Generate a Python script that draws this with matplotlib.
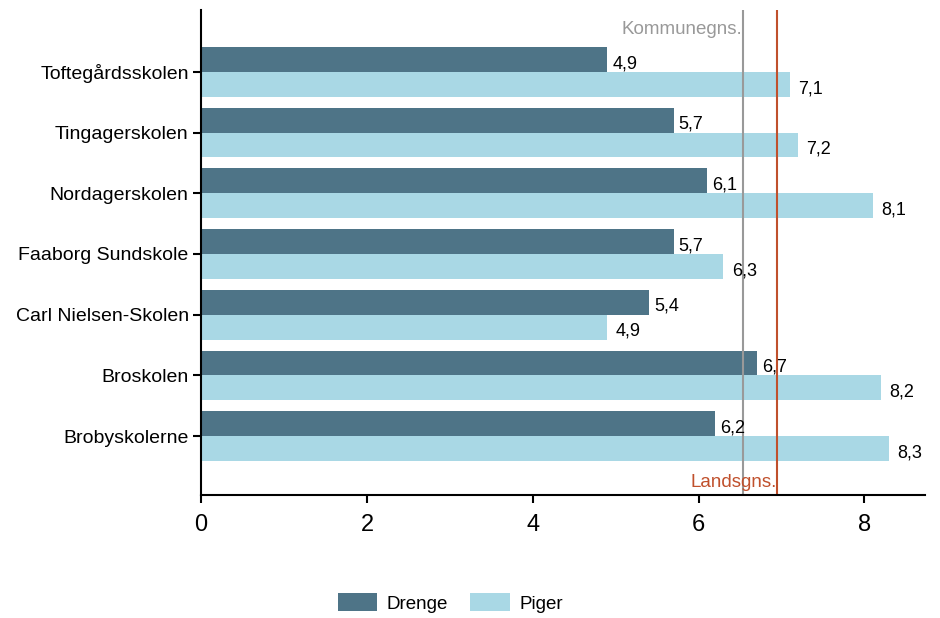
import matplotlib
matplotlib.use('Agg')
import matplotlib.pyplot as plt
import numpy as np

plt.rcParams['font.family'] = ['Liberation Sans', 'DejaVu Sans']

schools = ['Toftegårdsskolen', 'Tingagerskolen', 'Nordagerskolen', 'Faaborg Sundskole',
           'Carl Nielsen-Skolen', 'Broskolen', 'Brobyskolerne']
drenge = [4.9, 5.7, 6.1, 5.7, 5.4, 6.7, 6.2]
piger = [7.1, 7.2, 8.1, 6.3, 4.9, 8.2, 8.3]
kommune_avg = 6.53
lands_avg = 6.94

dark = '#4e7487'
light = '#a9d8e5'

fig = plt.figure(figsize=(9.4, 6.18), dpi=100)
ax = fig.add_axes([0.214, 0.199, 0.77, 0.785])

y = np.arange(len(schools))
h = 0.41
ax.barh(y - h / 2, drenge, height=h, color=dark, label='Drenge')
ax.barh(y + h / 2, piger, height=h, color=light, label='Piger')

for yi, v in zip(y, drenge):
    ax.text(v + 0.06, yi - h / 2 + 0.07, f'{v:.1f}'.replace('.', ','), va='center', ha='left', fontsize=13)
for yi, v in zip(y, piger):
    ax.text(v + 0.1, yi + h / 2 + 0.07, f'{v:.1f}'.replace('.', ','), va='center', ha='left', fontsize=13)

ax.axvline(kommune_avg, color='#999999', lw=1.5)
ax.axvline(lands_avg, color='#c0502c', lw=1.5)
ax.text(kommune_avg, -0.7, 'Kommunegns.', color='#999999', ha='right', va='center', fontsize=13.5)
ax.text(lands_avg, 6.76, 'Landsgns.', color='#c0502c', ha='right', va='center', fontsize=13.5)

ax.set_xlim(0, 8.73)
ax.set_ylim(6.97, -1.02)
ax.set_yticks(y)
ax.set_yticklabels(schools, fontsize=14)
ax.set_xticks([0, 2, 4, 6, 8])
ax.tick_params(axis='x', labelsize=17, length=6, width=1.5, pad=8)
ax.tick_params(axis='y', length=6, width=1.5, pad=3)
for s in ['top', 'right']:
    ax.spines[s].set_visible(False)
for s in ['left', 'bottom']:
    ax.spines[s].set_linewidth(1.5)

fig.legend(loc='center', bbox_to_anchor=(0.479, 0.024), ncol=2, frameon=False, fontsize=13.5,
           handlelength=2.1, handleheight=1.1, handletextpad=0.5, columnspacing=1.2)

fig.savefig('out.png', dpi=100)
